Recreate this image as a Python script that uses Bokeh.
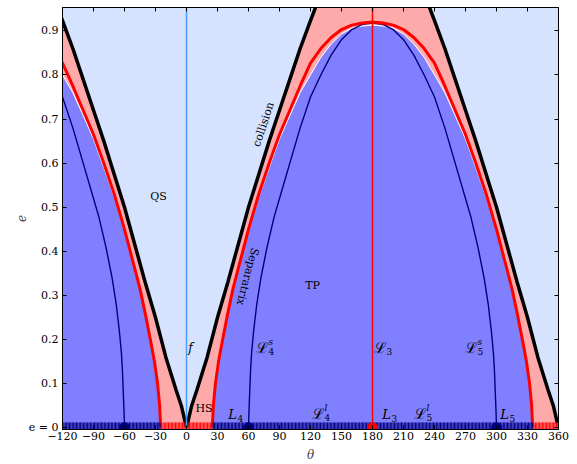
import numpy as np
from bokeh.plotting import figure
from bokeh.models import Range1d, FixedTicker, LinearAxis
from bokeh.core.properties import value
from bokeh.embed import file_html
from bokeh.resources import INLINE

# ---- data (half curves on [0, 180], symmetric about 180) ----
coll_theta = [0, 5, 10, 20, 30, 40, 50, 60, 70, 80, 90, 100, 110, 120, 130]
coll_e = [0, 0.05, 0.085, 0.16, 0.25, 0.33, 0.415, 0.5, 0.575, 0.65, 0.72, 0.79, 0.86, 0.923, 0.985]

sep_theta = [25, 26, 28, 31, 35, 40, 45, 50, 60, 70, 80, 90, 100, 110, 120, 130, 140, 150, 160, 170, 180]
sep_e = [0, 0.05, 0.10, 0.15, 0.20, 0.26, 0.315, 0.36, 0.45, 0.53, 0.60, 0.665, 0.72, 0.775, 0.827, 0.86, 0.885, 0.903, 0.913, 0.918, 0.92]
tp_e = [0, 0.045, 0.095, 0.145, 0.195, 0.255, 0.31, 0.355, 0.445, 0.523, 0.59, 0.655, 0.708, 0.76, 0.80, 0.84, 0.87, 0.893, 0.906, 0.911, 0.913]

ls_theta = [60, 60.5, 61, 62, 63, 65, 68, 72, 78, 85, 90, 100, 110, 120, 130, 140, 150, 160, 170, 180]
ls_e = [0, 0.04, 0.07, 0.13, 0.17, 0.22, 0.28, 0.34, 0.41, 0.48, 0.52, 0.60, 0.68, 0.75, 0.80, 0.845, 0.88, 0.903, 0.915, 0.918]

blue_eq_theta = [-60, 60, 300]
red_eq_theta = [180]
family_f_theta = 0
family_l3_theta = 180

xticks = [-120, -90, -60, -30, 0, 30, 60, 90, 120, 150, 180, 210, 240, 270, 300, 330, 360]
xtick_labels = ["\u2212120", "\u221290", "\u221260", "\u221230", "0", "30", "60", "90", "120",
                "150", "180", "210", "240", "270", "300", "330", "360"]
yticks = [0, 0.1, 0.2, 0.3, 0.4, 0.5, 0.6, 0.7, 0.8, 0.9]
ytick_labels = ["e = 0", "0.1", "0.2", "0.3", "0.4", "0.5", "0.6", "0.7", "0.8", "0.9"]

# ---- helpers ----
def full(th, e):
    th = np.asarray(th, float); e = np.asarray(e, float)
    if th[-1] == 180:
        th2 = 360 - th[::-1][1:]; e2 = e[::-1][1:]
    else:
        th2 = 360 - th[::-1]; e2 = e[::-1]
    return np.concatenate([th, th2]), np.concatenate([e, e2])

def left_part(th, e, start=228):
    m = th >= start
    return th[m] - 360, e[m]

SERIF = value("DejaVu Serif")
QS_C = "#d5e3fe"
TP_C = "#8080ff"
PINK = "#ffaaaa"
NAVY = "#00007f"
FBLUE = "#4b9dfb"

p = figure(width=577, height=464, output_backend="svg", toolbar_location=None,
           x_range=Range1d(-120, 360), y_range=Range1d(-0.004, 0.953),
           min_border_left=62, min_border_right=19, min_border_top=7, min_border_bottom=32)
p.background_fill_color = QS_C
p.border_fill_color = "white"
p.outline_line_color = "black"
p.outline_line_width = 1
p.grid.visible = False

cth, ce = full(coll_theta, coll_e)
sth, se = full(sep_theta, sep_e)
_, te = full(sep_theta, tp_e)
lth, le = full(ls_theta, ls_e)
cth_l, ce_l = left_part(cth, ce)
sth_l, se_l = left_part(sth, se)
_, te_l = left_part(sth, te)
lth_l, le_l = left_part(lth, le)

# regions
p.varea(x=cth, y1=-0.004, y2=ce, fill_color=PINK)
p.varea(x=cth_l, y1=-0.004, y2=ce_l, fill_color=PINK)
p.varea(x=sth, y1=-0.004, y2=te, fill_color=TP_C)
p.varea(x=sth_l, y1=-0.004, y2=te_l, fill_color=TP_C)
p.line(sth, te, line_color="white", line_width=1)
p.line(sth_l, te_l, line_color="white", line_width=1)

# families
p.line(lth, le, line_color=NAVY, line_width=1.4)
p.line(lth_l, le_l, line_color=NAVY, line_width=1.4)
p.line(sth, se, line_color="red", line_width=3)
p.line(sth_l, se_l, line_color="red", line_width=3)
p.line(cth, ce, line_color="black", line_width=3.5)
p.line(cth_l, ce_l, line_color="black", line_width=3.5)
p.segment(x0=[family_f_theta], y0=[0], x1=[family_f_theta], y1=[1], line_color=FBLUE, line_width=1.5)
p.segment(x0=[family_l3_theta], y0=[0], x1=[family_l3_theta], y1=[1], line_color="red", line_width=1.5)

# e = 0 strip
root = sep_theta[0]
strip = np.arange(-120, 360.01, 1.35)
cols = []
for t in strip:
    m = t % 360
    if m < 1 or m > 359:
        cols.append(FBLUE)
    elif m < root or m > 360 - root:
        cols.append("red")
    else:
        cols.append(NAVY)
p.segment(x0=strip, y0=-0.004, x1=strip, y1=0.012, line_color=cols, line_width=1)

p.scatter(blue_eq_theta, [0] * len(blue_eq_theta), size=10, color=NAVY)
p.scatter(red_eq_theta, [0] * len(red_eq_theta), size=10, color="red")

# text labels
def txt(x, y, s, size="11px", style="normal", angle=0, align="center", xo=0, yo=0):
    p.text(x=[x], y=[y], text=[s], text_font=SERIF, text_font_size=size, text_font_style=style,
           text_align=align, text_baseline="middle", angle=angle, x_offset=xo, y_offset=yo,
           text_color="black")

def script_label(x, y, main, sub, sup=None, italic_main=True, size="13px", dx=5):
    txt(x, y, main, size=size, style="italic" if italic_main else "normal")
    txt(x, y, sub, size="9px", align="left", xo=dx, yo=4)
    if sup:
        txt(x, y, sup, size="9px", style="italic", align="left", xo=dx, yo=-6)

txt(-27, 0.525, "QS")
txt(122, 0.323, "TP")
txt(17, 0.044, "HS")
txt(74.5, 0.688, "collision", angle=1.25)
txt(59, 0.343, "Separatrix", angle=-1.83)
txt(3.9, 0.181, "f", size="12px", style="italic")
script_label(73.6, 0.181, "\u2112", "4", "s", italic_main=False, size="15px", dx=6)
script_label(187.7, 0.181, "\u2112", "3", None, italic_main=False, size="15px", dx=6)
script_label(275.8, 0.181, "\u2112", "5", "s", italic_main=False, size="15px", dx=6)
script_label(127.7, 0.032, "\u2112", "4", "l", italic_main=False, size="15px", dx=6)
script_label(226.5, 0.032, "\u2112", "5", "l", italic_main=False, size="15px", dx=6)
script_label(44.5, 0.030, "L", "4")
script_label(193.6, 0.030, "L", "3")
script_label(307.7, 0.030, "L", "5")

# axes
for ax in p.xaxis:
    ax.ticker = FixedTicker(ticks=xticks)
    ax.major_label_overrides = {t: l for t, l in zip(xticks, xtick_labels)}
for ax in p.yaxis:
    ax.ticker = FixedTicker(ticks=yticks)
    ax.major_label_overrides = {t: l for t, l in zip(yticks, ytick_labels)}
for ax in list(p.xaxis) + list(p.yaxis):
    ax.major_tick_in = 4
    ax.major_tick_out = 0
    ax.minor_tick_line_color = None
    ax.major_label_text_font = "DejaVu Serif"
    ax.major_label_text_font_size = "11px"
    ax.major_label_text_color = "black"
    ax.axis_label_text_font = "DejaVu Serif"
    ax.axis_label_text_font_style = "italic"
    ax.axis_label_text_font_size = "12px"
p.xaxis.major_label_standoff = 2
p.yaxis.major_label_standoff = 4
p.xaxis.axis_label = "\u03b8"
p.yaxis.axis_label = "e"
p.xaxis.axis_label_standoff = 5
p.yaxis.axis_label_standoff = 0

top = LinearAxis(ticker=FixedTicker(ticks=xticks), major_label_overrides={t: "" for t in xticks},
                 major_tick_in=4, major_tick_out=0, minor_tick_line_color=None, major_label_standoff=0)
right = LinearAxis(ticker=FixedTicker(ticks=yticks), major_label_overrides={t: "" for t in yticks},
                   major_tick_in=4, major_tick_out=0, minor_tick_line_color=None, major_label_standoff=0)
p.add_layout(top, "above")
p.add_layout(right, "right")

open("out.html", "w").write(file_html(p, INLINE))
